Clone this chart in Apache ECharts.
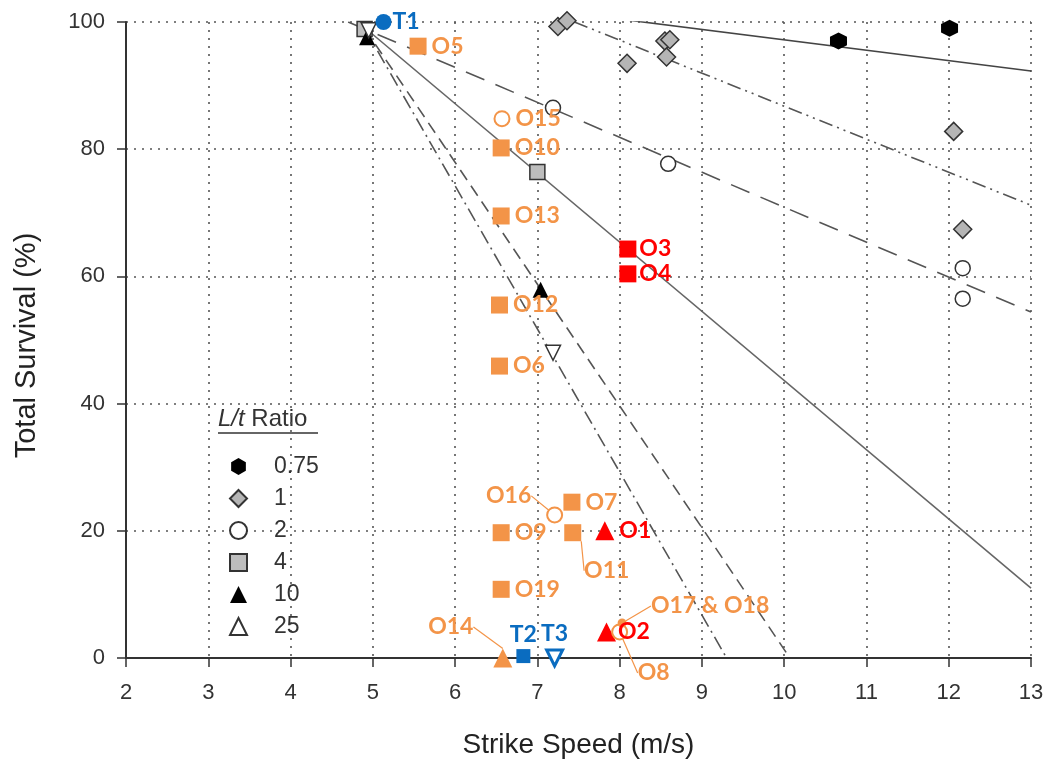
<!DOCTYPE html>
<html><head><meta charset="utf-8">
<script src="https://cdn.jsdelivr.net/npm/echarts@6/dist/echarts.min.js"></script>
<style>html,body{margin:0;padding:0;background:#fff}#c{width:1047px;height:765px}</style>
</head><body><div id="c"></div><script>
// ---- data ----
const ratioNames = ['0.75', '1', '2', '4', '10', '25'];
const ratio075X = [10.66, 12.01];
const ratio075Y = [97.0, 99.0];
const ratio1X = [7.25, 7.36, 8.09, 8.55, 8.61, 8.57, 12.06, 12.17];
const ratio1Y = [99.3, 100.2, 93.5, 97.0, 97.2, 94.5, 82.8, 67.4];
const ratio2X = [7.19, 8.59, 12.17, 12.17];
const ratio2Y = [86.5, 77.7, 61.3, 56.5];
const ratio4X = [4.9, 7.0];
const ratio4Y = [98.9, 76.4];
const ratio10X = [4.93, 7.04];
const ratio10Y = [97.6, 57.9];
const ratio25X = [4.95, 7.19];
const ratio25Y = [98.7, 48.0];

// regression line end points
const fit075X = [8.1, 13];  const fit075Y = [100.3, 92.3];
const fit1X = [7.45, 13];   const fit1Y = [100, 71.2];
const fit2X = [4.7, 13];    const fit2Y = [100, 54.4];
const fit4X = [4.82, 13];   const fit4Y = [100, 11.0];
const fit10X = [4.9, 10.07]; const fit10Y = [99, 0];
const fit25X = [4.9, 9.3];  const fit25Y = [99, 0];

// annotated observations
const obsLabels = ['T1', 'O5', 'O15', 'O10', 'O13', 'O3', 'O4', 'O12', 'O6', 'O7', 'O16', 'O9', 'O11', 'O1', 'O19', 'O14', 'T2', 'T3', 'O2', 'O8', 'O17 & O18'];
const obsSpeed = [5.13, 5.55, 6.57, 6.56, 6.56, 8.1, 8.1, 6.54, 6.54, 7.42, 7.21, 6.56, 7.43, 7.82, 6.56, 6.58, 6.83, 7.21, 7.84, 8.0, 8.03];
const obsSurvival = [100, 96.2, 84.8, 80.2, 69.5, 64.3, 60.4, 55.5, 45.9, 24.5, 22.5, 19.7, 19.7, 20.0, 10.8, 0, 0.3, 0, 4.1, 4.1, 5.5];

const xTicks = [2, 3, 4, 5, 6, 7, 8, 9, 10, 11, 12, 13];
const yTicks = [0, 20, 40, 60, 80, 100];

// ---- styles ----
const ORANGE = '#F39448', RED = '#FF0000', BLUE = '#0A6CC0';
const HEX = 'path://M0,-10L8.66,-5L8.66,5L0,10L-8.66,5L-8.66,-5Z';
const kind = {
  T1: 'blueDot', O5: 'oSq', O15: 'oCirc', O10: 'oSq', O13: 'oSq', O3: 'rSq', O4: 'rSq', O12: 'oSq', O6: 'oSq',
  O7: 'oSq', O16: 'oCirc', O9: 'oSq', O11: 'oSq', O1: 'rTri', O19: 'oSq', O14: 'oTri', T2: 'bSq', T3: 'bTriDown',
  O2: 'rTri', O8: 'oCirc', 'O17 & O18': 'oDot'
};
const kindStyle = {
  blueDot: { symbol: 'circle', symbolSize: 16, itemStyle: { color: BLUE, opacity: 1 } },
  oSq: { symbol: 'rect', symbolSize: 17, itemStyle: { color: ORANGE, opacity: 1 } },
  rSq: { symbol: 'rect', symbolSize: 17, itemStyle: { color: RED, opacity: 1 } },
  bSq: { symbol: 'rect', symbolSize: 14, itemStyle: { color: BLUE, opacity: 1 } },
  oCirc: { symbol: 'circle', symbolSize: 15, itemStyle: { color: '#fff', borderColor: ORANGE, borderWidth: 2, opacity: 1 } },
  oDot: { symbol: 'circle', symbolSize: 9, itemStyle: { color: ORANGE, opacity: 1 } },
  rTri: { symbol: 'triangle', symbolSize: 19, itemStyle: { color: RED, opacity: 1 } },
  oTri: { symbol: 'triangle', symbolSize: 19, itemStyle: { color: ORANGE, opacity: 1 } },
  bTriDown: { symbol: 'triangle', symbolSize: 16, symbolRotate: 180, itemStyle: { color: '#fff', borderColor: BLUE, borderWidth: 3, opacity: 1 } }
};
// label placement (pixel offsets) for labels that use a leader line
const labelMove = {
  O16: [-46, -19], O11: [34, 38], O14: [-52, -31], O8: [34, 41], 'O17 & O18': [88, -17]
};
const labelTop = { T2: true, T3: true };
const labelDist = { T1: 1, O3: 3, O4: 3, O2: 2 };

function colorFor(k) {
  if (k[0] === 'b') return BLUE;
  if (k[0] === 'r') return RED;
  return ORANGE;
}

const obsData = obsLabels.map((n, i) => {
  const k = kind[n];
  const st = kindStyle[k];
  const c = colorFor(k);
  const moved = !!labelMove[n];
  return {
    name: n,
    value: [obsSpeed[i], obsSurvival[i]],
    symbol: st.symbol,
    symbolSize: st.symbolSize,
    symbolRotate: st.symbolRotate || 0,
    itemStyle: st.itemStyle,
    label: {
      show: true,
      formatter: n,
      color: c,
      opacity: 1,
      position: labelTop[n] ? 'top' : (moved ? 'inside' : 'right'),
      distance: labelTop[n] ? 3 : (labelDist[n] !== undefined ? labelDist[n] : 5)
    },
    labelLine: moved ? { show: true, lineStyle: { color: ORANGE, width: 1.2, opacity: 1 } } : { show: false }
  };
});

function pairs(xs, ys) { return xs.map((x, i) => [x, ys[i]]); }

const ratioSeriesDefs = [
  { name: '0.75', x: ratio075X, y: ratio075Y, symbol: HEX, size: 17, itemStyle: { color: '#000', opacity: 1 } },
  { name: '1', x: ratio1X, y: ratio1Y, symbol: 'diamond', size: 18, itemStyle: { color: '#b5b5b5', borderColor: '#333', borderWidth: 1.5, opacity: 1 } },
  { name: '2', x: ratio2X, y: ratio2Y, symbol: 'circle', size: 15, itemStyle: { color: '#fff', borderColor: '#333', borderWidth: 1.5, opacity: 1 } },
  { name: '4', x: ratio4X, y: ratio4Y, symbol: 'rect', size: 15, itemStyle: { color: '#bdbdbd', borderColor: '#333', borderWidth: 1.5, opacity: 1 } },
  { name: '10', x: ratio10X, y: ratio10Y, symbol: 'triangle', size: 16, itemStyle: { color: '#000', opacity: 1 } },
  { name: '25', x: ratio25X, y: ratio25Y, symbol: 'triangle', size: 15, rotate: 180, itemStyle: { color: '#fff', borderColor: '#333', borderWidth: 1.5, opacity: 1 } }
];

const fitDefs = [
  { x: fit075X, y: fit075Y, type: 'solid', color: '#444' },
  { x: fit1X, y: fit1Y, type: [14, 5, 2, 5, 2, 5], color: '#555' },
  { x: fit2X, y: fit2Y, type: [20, 12], color: '#555' },
  { x: fit4X, y: fit4Y, type: 'solid', color: '#666' },
  { x: fit10X, y: fit10Y, type: [12, 7], color: '#555' },
  { x: fit25X, y: fit25Y, type: [14, 5, 2, 5], color: '#555' }
];

const series = [];
fitDefs.forEach((f, i) => {
  series.push({
    type: 'line', name: 'fit' + i, data: pairs(f.x, f.y), showSymbol: false, silent: true,
    lineStyle: { color: f.color, width: 1.6, type: f.type }, z: 1, animation: false
  });
});
ratioSeriesDefs.forEach(d => {
  series.push({
    type: 'scatter', name: d.name, data: pairs(d.x, d.y), symbol: d.symbol, symbolSize: d.size,
    symbolRotate: d.rotate || 0, itemStyle: d.itemStyle, z: 3, clip: false, animation: false
  });
});
series.push({
  type: 'scatter', name: 'obs', data: obsData, z: 5, clip: false, animation: false,
  itemStyle: { opacity: 1 },
  label: { fontFamily: 'Lato', fontWeight: 'bold', fontSize: 23 },
  labelLayout: function (p) {
    const n = obsLabels[p.dataIndex];
    if (labelMove[n]) return { dx: labelMove[n][0], dy: labelMove[n][1] };
    return {};
  }
});

const chart = echarts.init(document.getElementById('c'), null, { renderer: 'canvas' });
chart.setOption({
  animation: false,
  backgroundColor: '#fff',
  grid: { left: 126, right: 16, top: 22, bottom: 107, containLabel: false },
  xAxis: {
    type: 'value', min: xTicks[0], max: xTicks[xTicks.length - 1], interval: 1,
    name: 'Strike Speed (m/s)', nameLocation: 'middle', nameGap: 73,
    nameTextStyle: { fontFamily: 'Liberation Sans', fontSize: 28, color: '#222' },
    axisLine: { lineStyle: { color: '#333', width: 2 } },
    axisTick: { length: 9, lineStyle: { color: '#333', width: 1.5 } },
    axisLabel: { fontFamily: 'Liberation Sans', fontSize: 22, color: '#333', margin: 24 },
    splitLine: { show: true, lineStyle: { color: '#555', width: 1.6, type: [2, 6] } }
  },
  yAxis: {
    type: 'value', min: yTicks[0], max: yTicks[yTicks.length - 1], interval: 20,
    name: 'Total Survival (%)', nameLocation: 'middle', nameGap: 85,
    nameTextStyle: { fontFamily: 'Liberation Sans', fontSize: 29, color: '#222', padding: [0, 11, 0, 0] },
    axisLine: { show: true, lineStyle: { color: '#333', width: 2 } },
    axisTick: { show: true, length: 9, lineStyle: { color: '#333', width: 1.5 } },
    axisLabel: { fontFamily: 'Liberation Sans', fontSize: 22, color: '#333', margin: 21 },
    splitLine: { show: true, lineStyle: { color: '#555', width: 1.6, type: [2, 6] } }
  },
  legend: {
    data: ratioNames, orient: 'vertical', left: 224, top: 450,
    itemWidth: 17, itemHeight: 17, itemGap: 9, selectedMode: false,
    textStyle: { fontFamily: 'Liberation Sans', fontSize: 23, color: '#333', padding: [0, 0, 0, 22] }
  },
  graphic: [
    {
      type: 'text', left: 218, top: 407,
      style: {
        text: '{i|L/t} Ratio', fontFamily: 'Liberation Sans', fontSize: 24, fill: '#333',
        rich: { i: { fontStyle: 'italic', fontFamily: 'Liberation Sans', fontSize: 24, fill: '#333' } }
      }
    },
    { type: 'line', shape: { x1: 218, y1: 433, x2: 318, y2: 433 }, style: { stroke: '#333', lineWidth: 1.5 } }
  ],
  series: series
});
</script></body></html>
